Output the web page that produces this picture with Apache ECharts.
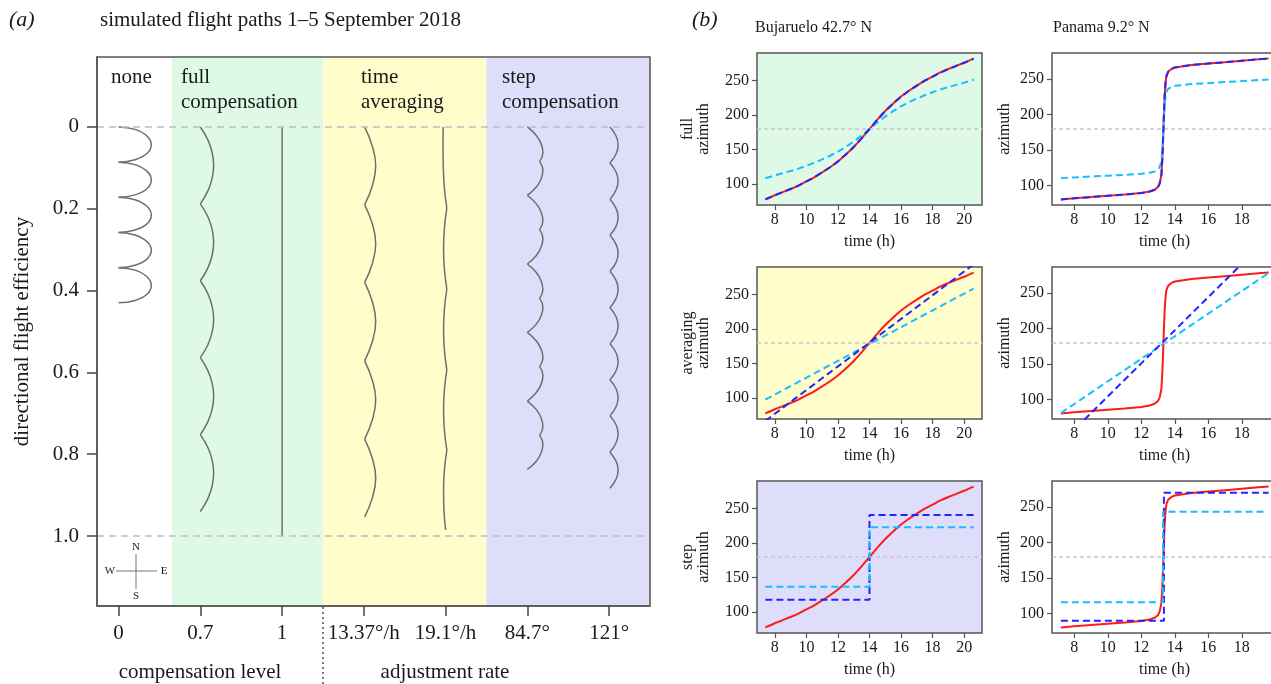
<!DOCTYPE html>
<html><head><meta charset="utf-8">
<script src="https://cdn.jsdelivr.net/npm/echarts@6/dist/echarts.min.js"></script>
<style>html,body{margin:0;padding:0;background:#fff}#c{width:1271px;height:684px}</style>
</head><body><div id="c"></div><script>
// ---------- Panel (a) data ----------
const aTicks = [0, 1, 2, 3, 4, 5, 6];
const aTickLabels = ['0', '0.7', '1', '13.37°/h', '19.1°/h', '84.7°', '121°'];
const effTicks = [0, 0.2, 0.4, 0.6, 0.8, 1.0];
const effTickLabels = ['0', '0.2', '0.4', '0.6', '0.8', '1.0'];
const bandEdges = [-0.264, 0.65, 2.5, 4.5, 6.5];
const bandColors = ['#ffffff', '#defae6', '#fffdcc', '#dedefa'];
const bandNames = ['none', 'full\ncompensation', 'time\naveraging', 'step\ncompensation'];

// flight paths: [x position, directional efficiency], one array per arc between cusps
const pathNone = [
  [[0,0],[0.20,0.006],[0.347,0.022],[0.40,0.043],[0.347,0.065],[0.20,0.080],[0,0.086]],
  [[0,0.086],[0.20,0.092],[0.347,0.108],[0.40,0.129],[0.347,0.151],[0.20,0.166],[0,0.172]],
  [[0,0.172],[0.20,0.178],[0.347,0.194],[0.40,0.215],[0.347,0.237],[0.20,0.252],[0,0.258]],
  [[0,0.258],[0.20,0.264],[0.347,0.280],[0.40,0.301],[0.347,0.323],[0.20,0.338],[0,0.344]],
  [[0,0.344],[0.20,0.350],[0.347,0.366],[0.40,0.387],[0.347,0.409],[0.20,0.424],[0,0.430]]
];
const pathFull07 = [
  [[1,0],[1.091,0.031],[1.145,0.063],[1.163,0.094],[1.145,0.125],[1.091,0.157],[1,0.188]],
  [[1,0.188],[1.091,0.219],[1.145,0.251],[1.163,0.282],[1.145,0.313],[1.091,0.345],[1,0.376]],
  [[1,0.376],[1.091,0.407],[1.145,0.439],[1.163,0.470],[1.145,0.501],[1.091,0.533],[1,0.564]],
  [[1,0.564],[1.091,0.595],[1.145,0.627],[1.163,0.658],[1.145,0.689],[1.091,0.721],[1,0.752]],
  [[1,0.752],[1.091,0.783],[1.145,0.815],[1.163,0.846],[1.145,0.877],[1.091,0.909],[1,0.940]]
];
const pathFull1 = [
  [[2,0],[2,1]]
];
const pathAvg1337 = [
  [[3.01,0],[3.105,0.048],[3.145,0.095],[3.105,0.143],[3.01,0.19]],
  [[3.01,0.19],[3.105,0.238],[3.145,0.285],[3.105,0.333],[3.01,0.38]],
  [[3.01,0.38],[3.105,0.428],[3.145,0.476],[3.105,0.524],[3.01,0.572]],
  [[3.01,0.572],[3.105,0.62],[3.145,0.667],[3.105,0.715],[3.01,0.763]],
  [[3.01,0.763],[3.105,0.811],[3.145,0.858],[3.105,0.906],[3.01,0.953]]
];
const pathAvg191 = [
  [[3.97,0],[3.968,0.05],[3.972,0.1],[3.985,0.15],[4.015,0.198]],
  [[4.015,0.198],[3.985,0.248],[3.975,0.298],[3.985,0.347],[4.015,0.397]],
  [[4.015,0.397],[3.985,0.446],[3.975,0.496],[3.985,0.545],[4.015,0.594]],
  [[4.015,0.594],[3.985,0.643],[3.975,0.692],[3.985,0.741],[4.015,0.79]],
  [[4.015,0.79],[3.985,0.839],[3.975,0.888],[3.98,0.937],[4.0,0.985]]
];
const pathStep847 = [
  [[5,0],[5.11,0.021],[5.17,0.042],[5.19,0.063],[5.15,0.084]],
  [[5.15,0.084],[5.19,0.105],[5.17,0.126],[5.11,0.147],[5,0.167]],
  [[5,0.167],[5.11,0.188],[5.17,0.209],[5.19,0.230],[5.15,0.251]],
  [[5.15,0.251],[5.19,0.272],[5.17,0.293],[5.11,0.314],[5,0.335]],
  [[5,0.335],[5.11,0.356],[5.17,0.377],[5.19,0.398],[5.15,0.419]],
  [[5.15,0.419],[5.19,0.440],[5.17,0.461],[5.11,0.482],[5,0.502]],
  [[5,0.502],[5.11,0.523],[5.17,0.544],[5.19,0.565],[5.15,0.586]],
  [[5.15,0.586],[5.19,0.607],[5.17,0.628],[5.11,0.649],[5,0.670]],
  [[5,0.670],[5.11,0.691],[5.17,0.712],[5.19,0.733],[5.15,0.754]],
  [[5.15,0.754],[5.19,0.775],[5.17,0.796],[5.11,0.817],[5,0.837]]
];
const pathStep121 = [
  [[6.01,0],[6.085,0.022],[6.11,0.044],[6.085,0.066],[6.01,0.088]],
  [[6.01,0.088],[6.085,0.110],[6.11,0.132],[6.085,0.154],[6.01,0.177]],
  [[6.01,0.177],[6.085,0.199],[6.11,0.221],[6.085,0.243],[6.01,0.265]],
  [[6.01,0.265],[6.085,0.287],[6.11,0.309],[6.085,0.331],[6.01,0.353]],
  [[6.01,0.353],[6.085,0.375],[6.11,0.397],[6.085,0.419],[6.01,0.442]],
  [[6.01,0.442],[6.085,0.464],[6.11,0.486],[6.085,0.508],[6.01,0.530]],
  [[6.01,0.530],[6.085,0.552],[6.11,0.574],[6.085,0.596],[6.01,0.618]],
  [[6.01,0.618],[6.085,0.640],[6.11,0.662],[6.085,0.684],[6.01,0.706]],
  [[6.01,0.706],[6.085,0.728],[6.11,0.750],[6.085,0.772],[6.01,0.795]],
  [[6.01,0.795],[6.085,0.817],[6.11,0.839],[6.085,0.861],[6.01,0.883]]
];
const allPaths = [pathNone, pathFull07, pathFull1, pathAvg1337, pathAvg191, pathStep847, pathStep121];

// ---------- Panel (b) data ----------
const timeTicksBJ = [8, 10, 12, 14, 16, 18, 20];
const timeTicksPA = [8, 10, 12, 14, 16, 18];
const azTicks = [100, 150, 200, 250];
const sunBJHours = [7.4,8,8.5,9,9.5,10,10.5,11,11.5,12,12.5,13,13.5,14,14.5,15,15.5,16,16.5,17,17.5,18,18.5,19,19.5,20,20.6];
const sunBJ = [78,84,88.5,93,98,104,110,117,124.5,133,143,154,166.5,180,193.5,206,217,227,235.5,243,250,256,262,267,271.5,276,282];
const full07BJ = [108.6,112.8,116,119.1,122.6,126.8,131,135.9,141.2,147.1,154.1,161.8,170.6,180,189.5,198.2,205.9,212.9,218.9,224.1,229,233.2,237.4,240.9,244,247.2,251.4];
const sunPAHours = [7.2,8,9,10,11,12,12.5,12.8,13,13.1,13.2,13.25,13.3,13.35,13.4,13.45,13.5,13.6,13.8,14,15,16,17,18,19,19.6];
const sunPA = [80.5,82,83.8,85.5,87.2,89.5,91.5,94,98,103,115,135,165,200,228,245,254,260,264,266,269.5,271.5,273.5,275.5,277.5,278.5];
const full07PA = [110.4,111.4,112.7,113.9,115,116.7,118,119.8,122.6,126.1,134.5,148.5,169.5,194,213.6,225.5,231.8,236,238.8,240.2,242.7,244,245.5,246.9,248.3,249];
const avgFastBJ = [[7.4,67],[20.6,294]];
const avgSlowBJ = [[7.4,98],[20.6,259]];
const avgFastPA = [[7.2,39],[19.6,328]];
const avgSlowPA = [[7.2,81],[19.6,278]];
const stepBigBJ = [[7.4,118],[14,118],[14,241],[20.6,241]];
const stepSmallBJ = [[7.4,137],[14,137],[14,223],[20.6,223]];
const stepBigPA = [[7.2,90],[13.35,90],[13.35,270],[19.6,270]];
const stepSmallPA = [[7.2,116],[13.3,116],[13.3,243],[19.5,243]];
const southAzimuth = 180;

// ---------- build ----------
const FONT = 'Liberation Serif';
const TXT = '#1a1a1a';
const RED = '#ff1a1a', BLUE = '#2424ff', CYAN = '#14bfff';
const pairs = (xs, ys) => xs.map((x, i) => [x, ys[i]]);

const grids = [], xAxes = [], yAxes = [], series = [];

// panel (a)
grids.push({left: 97, top: 57, width: 553, height: 549, show: true, z: 10, outerBoundsMode: 'none',
  backgroundColor: 'transparent', borderColor: '#555', borderWidth: 1.5});
xAxes.push({gridIndex: 0, type: 'value', min: -0.264, max: 6.5, z: 12,
  axisLine: {show: true, onZero: false, lineStyle: {color: '#555', width: 1.5}}, splitLine: {show: false},
  axisTick: {show: true, length: 10, customValues: aTicks, lineStyle: {color: '#444', width: 1.5}},
  axisLabel: {customValues: aTicks, margin: 17, fontFamily: FONT, fontSize: 21, color: TXT,
    formatter: v => aTickLabels[aTicks.indexOf(Math.round(v))]}});
yAxes.push({gridIndex: 0, type: 'value', min: -0.171, max: 1.171, inverse: true, z: 12,
  axisLine: {show: true, onZero: false, lineStyle: {color: '#555', width: 1.5}}, splitLine: {show: false},
  axisTick: {show: true, length: 10, customValues: effTicks, lineStyle: {color: '#444', width: 1.5}},
  axisLabel: {customValues: effTicks, margin: 18, fontFamily: FONT, fontSize: 21, color: TXT,
    formatter: v => { let b = 0; effTicks.forEach((t, i) => { if (Math.abs(t - v) < Math.abs(effTicks[b] - v)) b = i; }); return effTickLabels[b]; }},
  name: 'directional flight efficiency', nameLocation: 'middle', nameGap: 64, nameRotate: 90,
  nameTextStyle: {fontFamily: FONT, fontSize: 21, color: TXT}});

series.push({type: 'line', xAxisIndex: 0, yAxisIndex: 0, data: [], z: 1, silent: true,
  markArea: {silent: true, data: bandColors.map((c, i) => [
    {xAxis: bandEdges[i], yAxis: -0.171, itemStyle: {color: c, opacity: 1}},
    {xAxis: bandEdges[i + 1], yAxis: 1.171}])},
  markLine: {silent: true, symbol: ['none', 'none'], label: {show: false},
    lineStyle: {color: '#bdbdbd', type: [7, 5], width: 1.5},
    data: [{yAxis: 0}, {yAxis: 1}]}});

allPaths.forEach(segs => segs.forEach(seg => {
  series.push({type: 'line', xAxisIndex: 0, yAxisIndex: 0, data: seg, smooth: 0.45,
    showSymbol: false, symbol: 'none', silent: true, z: 3,
    lineStyle: {color: '#6e6e6e', width: 1.5}});
}));

// panel (b)
const bPanels = [
  {left: 757, top: 53, bg: '#defae6', name: 'full\nazimuth', xr: [6.87, 21.13], yr: [69.8, 290.2], ticks: timeTicksBJ,
   lines: [[pairs(sunBJHours, sunBJ), RED, false], [pairs(sunBJHours, full07BJ), CYAN, true], [pairs(sunBJHours, sunBJ), BLUE, true]], smooth: true},
  {left: 1052, top: 53, bg: '#ffffff', name: 'azimuth', xr: [6.67, 20.1], yr: [72.6, 286.4], ticks: timeTicksPA,
   lines: [[pairs(sunPAHours, sunPA), RED, false], [pairs(sunPAHours, full07PA), CYAN, true], [pairs(sunPAHours, sunPA), BLUE, true]], smooth: false},
  {left: 757, top: 267, bg: '#fffdcc', name: 'averaging\nazimuth', xr: [6.87, 21.13], yr: [69.8, 290.2], ticks: timeTicksBJ,
   lines: [[pairs(sunBJHours, sunBJ), RED, false], [avgSlowBJ, CYAN, true], [avgFastBJ, BLUE, true]], smooth: true},
  {left: 1052, top: 267, bg: '#ffffff', name: 'azimuth', xr: [6.67, 20.1], yr: [72.6, 286.4], ticks: timeTicksPA,
   lines: [[pairs(sunPAHours, sunPA), RED, false], [avgSlowPA, CYAN, true], [avgFastPA, BLUE, true]], smooth: false},
  {left: 757, top: 481, bg: '#dedefa', name: 'step\nazimuth', xr: [6.87, 21.13], yr: [69.8, 290.2], ticks: timeTicksBJ,
   lines: [[pairs(sunBJHours, sunBJ), RED, false], [stepBigBJ, BLUE, true], [stepSmallBJ, CYAN, true]], smooth: true},
  {left: 1052, top: 481, bg: '#ffffff', name: 'azimuth', xr: [6.67, 20.1], yr: [72.6, 286.4], ticks: timeTicksPA,
   lines: [[pairs(sunPAHours, sunPA), RED, false], [stepBigPA, BLUE, true], [stepSmallPA, CYAN, true]], smooth: false}
];
bPanels.forEach((p, k) => {
  const gi = k + 1;
  const twoLine = p.name.indexOf('\n') >= 0;
  grids.push({left: p.left, top: p.top, width: 225, height: 152, show: true, outerBoundsMode: 'none',
    backgroundColor: p.bg, borderColor: '#555', borderWidth: 1.5});
  xAxes.push({gridIndex: gi, type: 'value', min: p.xr[0], max: p.xr[1],
    axisLine: {show: false}, splitLine: {show: false},
    axisTick: {show: true, length: 5, customValues: p.ticks, lineStyle: {color: '#555', width: 1.2}},
    axisLabel: {customValues: p.ticks, margin: 7, fontFamily: FONT, fontSize: 16, color: TXT},
    name: 'time (h)', nameLocation: 'middle', nameGap: 29,
    nameTextStyle: {fontFamily: FONT, fontSize: 16, color: TXT}});
  yAxes.push({gridIndex: gi, type: 'value', min: p.yr[0], max: p.yr[1],
    axisLine: {show: false}, splitLine: {show: false},
    axisTick: {show: true, length: 5, customValues: azTicks, lineStyle: {color: '#555', width: 1.2}},
    axisLabel: {customValues: azTicks, margin: 8, fontFamily: FONT, fontSize: 16, color: TXT},
    name: p.name, nameLocation: 'middle', nameGap: twoLine ? 45 : 39, nameRotate: 90,
    nameTextStyle: {fontFamily: FONT, fontSize: 16, lineHeight: 16, color: TXT}});
  p.lines.forEach((ln, j) => {
    const s = {type: 'line', xAxisIndex: gi, yAxisIndex: gi, data: ln[0], showSymbol: false,
      symbol: 'none', silent: true, clip: true, z: 3 + j, smooth: (!ln[2] && p.smooth) ? 0.3 : false,
      lineStyle: {color: ln[1], width: 2, type: ln[2] ? [7, 4] : 'solid'}};
    if (j === 0) {
      s.markLine = {silent: true, symbol: ['none', 'none'], label: {show: false},
        lineStyle: {color: '#c8c8c8', type: [4, 3], width: 1.5}, data: [{yAxis: southAzimuth}]};
    }
    series.push(s);
  });
});

const tx = (text, x, y, size, opts) => Object.assign({type: 'text', silent: true, z: 20,
  style: Object.assign({text, x, y, fontFamily: FONT, fontSize: size, fill: TXT,
    textAlign: 'left', textVerticalAlign: 'middle'}, (opts || {}))});

const graphics = [
  tx('(a)', 9, 20, 22, {fontStyle: 'italic'}),
  tx('simulated flight paths 1–5 September 2018', 100, 20, 21),
  tx(bandNames[0], 111, 77, 21),
  tx(bandNames[1], 181, 90, 21, {lineHeight: 25}),
  tx(bandNames[2], 361, 90, 21, {lineHeight: 25}),
  tx(bandNames[3], 502, 90, 21, {lineHeight: 25}),
  tx('N', 136, 547, 11, {textAlign: 'center'}),
  tx('S', 136, 596, 11, {textAlign: 'center'}),
  tx('W', 110, 571, 11, {textAlign: 'center'}),
  tx('E', 164, 571, 11, {textAlign: 'center'}),
  {type: 'line', silent: true, z: 20, shape: {x1: 136, y1: 554, x2: 136, y2: 589}, style: {stroke: '#777', lineWidth: 1}},
  {type: 'line', silent: true, z: 20, shape: {x1: 116, y1: 571, x2: 157, y2: 571}, style: {stroke: '#777', lineWidth: 1}},
  {type: 'line', silent: true, z: 20, shape: {x1: 323, y1: 607, x2: 323, y2: 684}, style: {stroke: '#222', lineWidth: 1.2, lineDash: [2, 3]}},
  tx('compensation level', 200, 672, 21, {textAlign: 'center'}),
  tx('adjustment rate', 445, 672, 21, {textAlign: 'center'}),
  tx('(b)', 692, 20, 22, {fontStyle: 'italic'}),
  tx('Bujaruelo 42.7° N', 755, 28, 16),
  tx('Panama 9.2° N', 1053, 28, 16)
];

const chart = echarts.init(document.getElementById('c'), null, {renderer: 'canvas'});
chart.setOption({
  animation: false,
  backgroundColor: '#ffffff',
  textStyle: {fontFamily: FONT},
  grid: grids, xAxis: xAxes, yAxis: yAxes, series,
  graphic: {elements: graphics}
});
</script></body></html>
